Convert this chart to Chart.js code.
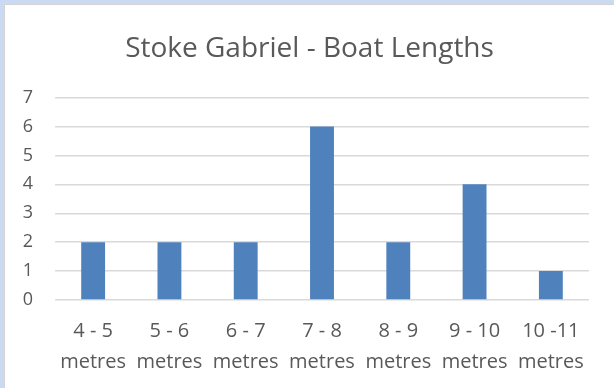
<!DOCTYPE html>
<html>
<head>
<meta charset="utf-8">
<script src="https://cdn.jsdelivr.net/npm/chart.js@4/dist/chart.umd.min.js"></script>
<style>
  html, body { margin: 0; padding: 0; background: #c9daf2; }
  body { width: 614px; height: 388px; position: relative; overflow: hidden; }
  #frame {
    position: absolute; left: 4px; top: 4px; width: 610px; height: 384px;
    background: #ffffff; border-left: 1px solid #d4d4d4; border-top: 1px solid #d4d4d4;
    box-sizing: border-box;
  }
  #wrap { position: absolute; left: 0; top: 0; width: 609px; height: 393px; }
</style>
</head>
<body>
<div id="frame"><div id="wrap"><canvas id="c"></canvas></div></div>
<script>
// Boat length bands and how many boats fall in each
const lengthBands = [
  ['4 - 5', 'metres'],
  ['5 - 6', 'metres'],
  ['6 - 7', 'metres'],
  ['7 - 8', 'metres'],
  ['8 - 9', 'metres'],
  ['9 - 10', 'metres'],
  ['10 -11', 'metres']
];
const boatCounts = [2, 2, 2, 6, 2, 4, 1];
const chartTitle = 'Stoke Gabriel - Boat Lengths';

const textGrey = '#595959';
const fontFamily = "'Open Sans', 'Liberation Sans', sans-serif";

new Chart(document.getElementById('c'), {
  type: 'bar',
  data: {
    labels: lengthBands,
    datasets: [{
      data: boatCounts,
      backgroundColor: '#4f81bd',
      borderColor: '#4f81bd',
      borderWidth: 0,
      categoryPercentage: 1.0,
      barPercentage: 0.313
    }]
  },
  options: {
    responsive: true,
    maintainAspectRatio: false,
    animation: false,
    layout: { padding: { left: 0, right: 0, top: 27, bottom: 4 } },
    plugins: {
      legend: { display: false },
      tooltip: { enabled: false },
      title: {
        display: true,
        text: chartTitle,
        color: textGrey,
        font: { family: fontFamily, size: 28, weight: 'normal' },
        padding: { top: 0, bottom: 32 }
      }
    },
    scales: {
      x: {
        grid: { display: false, drawTicks: false },
        border: { display: false },
        afterFit: (scale) => { scale.paddingLeft = 0; scale.paddingRight = 0; },
        ticks: {
          color: textGrey,
          font: { family: fontFamily, size: 20, lineHeight: 1.55 },
          padding: 16,
          maxRotation: 0,
          autoSkip: false
        }
      },
      y: {
        min: 0,
        max: 7,
        grid: { color: '#d9d9d9', lineWidth: 1.5, drawTicks: false },
        border: { display: false },
        afterFit: (scale) => { scale.width = 50; },
        ticks: {
          stepSize: 1,
          color: textGrey,
          font: { family: fontFamily, size: 18 },
          padding: 22
        }
      },
      // empty right-hand margin so the plot stops short of the frame edge
      yRight: {
        position: 'right',
        display: true,
        grid: { display: false, drawTicks: false },
        border: { display: false },
        ticks: { display: false },
        afterFit: (scale) => { scale.width = 25; }
      }
    }
  }
});
</script>
</body>
</html>
